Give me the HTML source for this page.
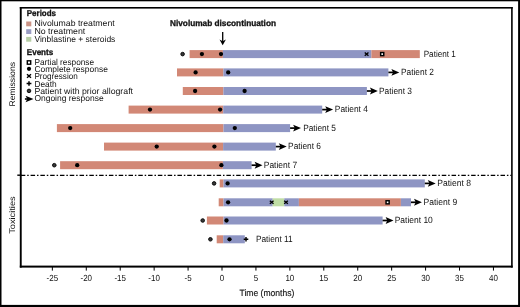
<!DOCTYPE html>
<html><head><meta charset="utf-8"><style>
html,body{margin:0;padding:0;background:#fff;}
svg{display:block;font-family:"Liberation Sans",sans-serif;text-rendering:geometricPrecision;will-change:transform;}
text{fill:#111;}
</style></head><body>
<svg width="520" height="307" viewBox="0 0 520 307">
<rect x="0" y="0" width="520" height="307" fill="#fff"/>
<!-- outer frame -->
<rect x="0" y="0" width="520" height="1.3" fill="#000"/>
<rect x="0" y="0" width="1.5" height="307" fill="#000"/>
<rect x="518.1" y="0" width="1.9" height="307" fill="#000"/>
<rect x="0" y="304.9" width="520" height="2.1" fill="#000"/>
<!-- plot box -->
<rect x="19.8" y="7" width="492.9" height="1.6" fill="#000"/>
<rect x="19.8" y="7" width="1.9" height="260.6" fill="#000"/>
<rect x="511.1" y="7" width="1.6" height="260.6" fill="#000"/>
<rect x="19.8" y="265.6" width="492.9" height="2" fill="#000"/>
<rect x="51.85" y="267" width="1" height="3.6" fill="#000"/>
<text transform="translate(52.35,281.4) scale(0.91,1)" font-size="8.8" text-anchor="middle">-25</text>
<rect x="85.78" y="267" width="1" height="3.6" fill="#000"/>
<text transform="translate(86.28,281.4) scale(0.91,1)" font-size="8.8" text-anchor="middle">-20</text>
<rect x="119.71" y="267" width="1" height="3.6" fill="#000"/>
<text transform="translate(120.21,281.4) scale(0.91,1)" font-size="8.8" text-anchor="middle">-15</text>
<rect x="153.64" y="267" width="1" height="3.6" fill="#000"/>
<text transform="translate(154.14,281.4) scale(0.91,1)" font-size="8.8" text-anchor="middle">-10</text>
<rect x="187.57" y="267" width="1" height="3.6" fill="#000"/>
<text transform="translate(188.07,281.4) scale(0.91,1)" font-size="8.8" text-anchor="middle">-5</text>
<rect x="221.50" y="267" width="1" height="3.6" fill="#000"/>
<text transform="translate(222.00,281.4) scale(0.91,1)" font-size="8.8" text-anchor="middle">0</text>
<rect x="255.43" y="267" width="1" height="3.6" fill="#000"/>
<text transform="translate(255.93,281.4) scale(0.91,1)" font-size="8.8" text-anchor="middle">5</text>
<rect x="289.36" y="267" width="1" height="3.6" fill="#000"/>
<text transform="translate(289.86,281.4) scale(0.91,1)" font-size="8.8" text-anchor="middle">10</text>
<rect x="323.29" y="267" width="1" height="3.6" fill="#000"/>
<text transform="translate(323.79,281.4) scale(0.91,1)" font-size="8.8" text-anchor="middle">15</text>
<rect x="357.22" y="267" width="1" height="3.6" fill="#000"/>
<text transform="translate(357.72,281.4) scale(0.91,1)" font-size="8.8" text-anchor="middle">20</text>
<rect x="391.15" y="267" width="1" height="3.6" fill="#000"/>
<text transform="translate(391.65,281.4) scale(0.91,1)" font-size="8.8" text-anchor="middle">25</text>
<rect x="425.08" y="267" width="1" height="3.6" fill="#000"/>
<text transform="translate(425.58,281.4) scale(0.91,1)" font-size="8.8" text-anchor="middle">30</text>
<rect x="459.01" y="267" width="1" height="3.6" fill="#000"/>
<text transform="translate(459.51,281.4) scale(0.91,1)" font-size="8.8" text-anchor="middle">35</text>
<rect x="492.94" y="267" width="1" height="3.6" fill="#000"/>
<text transform="translate(493.44,281.4) scale(0.91,1)" font-size="8.8" text-anchor="middle">40</text>
<text x="239.5" y="296.3" font-size="9.2" stroke="#111" stroke-width="0.15" textLength="54.8" lengthAdjust="spacingAndGlyphs">Time (months)</text>
<text transform="translate(15.3,84.3) rotate(-90)" font-size="8.2" text-anchor="middle" textLength="44.6" lengthAdjust="spacingAndGlyphs">Remissions</text>
<text transform="translate(15.3,215.1) rotate(-90)" font-size="8.2" text-anchor="middle" textLength="37.5" lengthAdjust="spacingAndGlyphs">Toxicities</text>
<!-- separator -->
<rect x="17.3" y="174.5" width="4" height="1.4" fill="#000"/>
<path d="M20.8 175.4H511.5" stroke="#000" stroke-width="1.4" stroke-dasharray="4.5 1.9 1.5 1.89" fill="none"/>
<!-- title -->
<text x="170" y="26" font-size="8.5" font-weight="bold" stroke="#111" stroke-width="0.3" textLength="106" lengthAdjust="spacingAndGlyphs">Nivolumab discontinuation</text>
<path d="M222.7 32V42" stroke="#000" stroke-width="1.3" fill="none"/>
<path d="M222.7 45.3L219.5 39.6L222.7 41.2L225.9 39.6Z" fill="#000"/>

<text x="26.8" y="16" font-size="8.5" font-weight="bold" stroke="#111" stroke-width="0.3" textLength="29.2" lengthAdjust="spacingAndGlyphs">Periods</text>
<rect x="26.2" y="21.5" width="5.1" height="4.8" fill="#CB9385"/>
<rect x="26.2" y="29.2" width="5.1" height="4.8" fill="#999CC2"/>
<rect x="26.2" y="36.9" width="5.1" height="4.8" fill="#B7CEA6"/>
<text x="34.4" y="26" font-size="8.6" textLength="80.3" lengthAdjust="spacingAndGlyphs">Nivolumab treatment</text>
<text x="34.4" y="34" font-size="8.6" textLength="50.9" lengthAdjust="spacingAndGlyphs">No treatment</text>
<text x="34.4" y="42" font-size="8.6" textLength="81" lengthAdjust="spacingAndGlyphs">Vinblastine + steroids</text>
<text x="26.8" y="55" font-size="8.5" font-weight="bold" stroke="#111" stroke-width="0.3" textLength="26.4" lengthAdjust="spacingAndGlyphs">Events</text>
<text x="34.4" y="64.6" font-size="8.6" textLength="59.7" lengthAdjust="spacingAndGlyphs">Partial response</text>
<text x="34.4" y="72" font-size="8.6" textLength="73.5" lengthAdjust="spacingAndGlyphs">Complete response</text>
<text x="34.4" y="79" font-size="8.6" textLength="43.4" lengthAdjust="spacingAndGlyphs">Progression</text>
<text x="34.4" y="87" font-size="8.6" textLength="22.3" lengthAdjust="spacingAndGlyphs">Death</text>
<text x="34.4" y="94" font-size="8.6" textLength="98.6" lengthAdjust="spacingAndGlyphs">Patient with prior allograft</text>
<text x="34.4" y="101" font-size="8.6" textLength="69.2" lengthAdjust="spacingAndGlyphs">Ongoing response</text>
<rect x="27.3" y="60.8" width="3.4" height="3.4" fill="#fff" stroke="#000" stroke-width="1.4"/>
<circle cx="29" cy="68.8" r="2.1" fill="#000"/>
<path d="M27.0 74.3L31.0 77.7M27.0 77.7L31.0 74.3" stroke="#000" stroke-width="1.5" fill="none"/>
<path d="M26.6 83.5H31.4M29 81.2V85.8" stroke="#000" stroke-width="1.5" fill="none"/>
<circle cx="29" cy="90.9" r="1.8" fill="#383838" stroke="#000" stroke-width="0.9"/>
<path d="M24.9 99H29" stroke="#000" stroke-width="1.6" fill="none"/>
<path d="M33.5 99L25.5 95.8L27.3 99L25.5 102.2Z" fill="#000"/>

<rect x="189.60" y="50.10" width="33.30" height="8.0" fill="#D28876"/>
<rect x="222.90" y="50.10" width="148.50" height="8.0" fill="#8E95C3"/>
<rect x="371.40" y="50.10" width="48.40" height="8.0" fill="#D28876"/>
<circle cx="182.60" cy="54.10" r="1.8" fill="#383838" stroke="#000" stroke-width="0.9"/>
<circle cx="201.90" cy="54.10" r="2.15" fill="#000"/>
<circle cx="221.00" cy="54.10" r="2.15" fill="#000"/>
<path d="M364.75 52.55L368.45 55.65M364.75 55.65L368.45 52.55" stroke="#000" stroke-width="1.35" fill="none"/>
<rect x="380.65" y="52.55" width="3.1" height="3.1" fill="#fff" stroke="#000" stroke-width="1.45"/>
<text x="423.70" y="56.90" font-size="9.1" textLength="32.10" lengthAdjust="spacingAndGlyphs">Patient 1</text>
<rect x="177.00" y="68.40" width="46.40" height="8.0" fill="#D28876"/>
<rect x="223.40" y="68.40" width="165.00" height="8.0" fill="#8E95C3"/>
<path d="M388.40 72.40H394.40" stroke="#000" stroke-width="1.7" fill="none"/>
<path d="M399.30 72.40L391.40 68.95L393.10 72.40L391.40 75.85Z" fill="#000"/>
<circle cx="195.60" cy="72.40" r="2.15" fill="#000"/>
<circle cx="228.20" cy="72.40" r="2.15" fill="#000"/>
<text x="401.00" y="75.20" font-size="9.1" textLength="32.90" lengthAdjust="spacingAndGlyphs">Patient 2</text>
<rect x="182.80" y="87.00" width="40.60" height="8.0" fill="#D28876"/>
<rect x="223.40" y="87.00" width="143.50" height="8.0" fill="#8E95C3"/>
<path d="M366.90 91.00H372.90" stroke="#000" stroke-width="1.7" fill="none"/>
<path d="M377.80 91.00L369.90 87.55L371.60 91.00L369.90 94.45Z" fill="#000"/>
<circle cx="195.10" cy="91.00" r="2.15" fill="#000"/>
<circle cx="244.60" cy="91.00" r="2.15" fill="#000"/>
<text x="379.00" y="93.80" font-size="9.1" textLength="33.00" lengthAdjust="spacingAndGlyphs">Patient 3</text>
<rect x="128.60" y="105.60" width="94.60" height="8.0" fill="#D28876"/>
<rect x="223.20" y="105.60" width="99.00" height="8.0" fill="#8E95C3"/>
<path d="M322.20 109.60H328.20" stroke="#000" stroke-width="1.7" fill="none"/>
<path d="M333.10 109.60L325.20 106.15L326.90 109.60L325.20 113.05Z" fill="#000"/>
<circle cx="150.00" cy="109.60" r="2.15" fill="#000"/>
<circle cx="220.10" cy="109.60" r="2.15" fill="#000"/>
<text x="334.80" y="112.40" font-size="9.1" textLength="33.10" lengthAdjust="spacingAndGlyphs">Patient 4</text>
<rect x="56.90" y="124.10" width="166.60" height="8.0" fill="#D28876"/>
<rect x="223.50" y="124.10" width="66.60" height="8.0" fill="#8E95C3"/>
<path d="M290.10 128.10H296.10" stroke="#000" stroke-width="1.7" fill="none"/>
<path d="M301.00 128.10L293.10 124.65L294.80 128.10L293.10 131.55Z" fill="#000"/>
<circle cx="70.20" cy="128.10" r="2.15" fill="#000"/>
<circle cx="234.80" cy="128.10" r="2.15" fill="#000"/>
<text x="303.20" y="130.90" font-size="9.1" textLength="32.80" lengthAdjust="spacingAndGlyphs">Patient 5</text>
<rect x="104.00" y="142.60" width="119.10" height="8.0" fill="#D28876"/>
<rect x="223.10" y="142.60" width="52.70" height="8.0" fill="#8E95C3"/>
<path d="M275.80 146.60H281.80" stroke="#000" stroke-width="1.7" fill="none"/>
<path d="M286.70 146.60L278.80 143.15L280.50 146.60L278.80 150.05Z" fill="#000"/>
<circle cx="156.70" cy="146.60" r="2.15" fill="#000"/>
<circle cx="214.40" cy="146.60" r="2.15" fill="#000"/>
<text x="288.10" y="149.40" font-size="9.1" textLength="32.90" lengthAdjust="spacingAndGlyphs">Patient 6</text>
<rect x="60.10" y="161.20" width="162.80" height="8.0" fill="#D28876"/>
<rect x="222.90" y="161.20" width="28.70" height="8.0" fill="#8E95C3"/>
<path d="M251.60 165.20H257.60" stroke="#000" stroke-width="1.7" fill="none"/>
<path d="M262.50 165.20L254.60 161.75L256.30 165.20L254.60 168.65Z" fill="#000"/>
<circle cx="54.30" cy="165.20" r="1.8" fill="#383838" stroke="#000" stroke-width="0.9"/>
<circle cx="77.20" cy="165.20" r="2.15" fill="#000"/>
<circle cx="221.40" cy="165.20" r="2.15" fill="#000"/>
<text x="263.80" y="168.00" font-size="9.1" textLength="33.30" lengthAdjust="spacingAndGlyphs">Patient 7</text>
<rect x="219.70" y="179.40" width="3.80" height="8.0" fill="#D28876"/>
<rect x="223.50" y="179.40" width="201.30" height="8.0" fill="#8E95C3"/>
<path d="M424.80 183.40H430.80" stroke="#000" stroke-width="1.7" fill="none"/>
<path d="M435.70 183.40L427.80 179.95L429.50 183.40L427.80 186.85Z" fill="#000"/>
<circle cx="214.10" cy="183.40" r="1.8" fill="#383838" stroke="#000" stroke-width="0.9"/>
<circle cx="227.60" cy="183.40" r="2.15" fill="#000"/>
<text x="437.30" y="186.20" font-size="9.1" textLength="33.70" lengthAdjust="spacingAndGlyphs">Patient 8</text>
<rect x="218.70" y="198.30" width="4.80" height="8.0" fill="#D28876"/>
<rect x="223.50" y="198.30" width="49.20" height="8.0" fill="#8E95C3"/>
<rect x="272.70" y="198.30" width="11.60" height="8.0" fill="#C0DDA5"/>
<rect x="284.30" y="198.30" width="14.60" height="8.0" fill="#8E95C3"/>
<rect x="298.90" y="198.30" width="102.00" height="8.0" fill="#D28876"/>
<rect x="400.90" y="198.30" width="10.10" height="8.0" fill="#8E95C3"/>
<path d="M411.00 202.30H417.00" stroke="#000" stroke-width="1.7" fill="none"/>
<path d="M421.90 202.30L414.00 198.85L415.70 202.30L414.00 205.75Z" fill="#000"/>
<circle cx="228.10" cy="202.30" r="2.15" fill="#000"/>
<path d="M269.85 200.75L273.55 203.85M269.85 203.85L273.55 200.75" stroke="#000" stroke-width="1.35" fill="none"/>
<path d="M284.15 200.75L287.85 203.85M284.15 203.85L287.85 200.75" stroke="#000" stroke-width="1.35" fill="none"/>
<rect x="386.05" y="200.75" width="3.1" height="3.1" fill="#fff" stroke="#000" stroke-width="1.45"/>
<text x="423.50" y="205.10" font-size="9.1" textLength="33.70" lengthAdjust="spacingAndGlyphs">Patient 9</text>
<rect x="206.90" y="216.50" width="16.60" height="8.0" fill="#D28876"/>
<rect x="223.50" y="216.50" width="159.10" height="8.0" fill="#8E95C3"/>
<path d="M382.60 220.50H388.60" stroke="#000" stroke-width="1.7" fill="none"/>
<path d="M393.50 220.50L385.60 217.05L387.30 220.50L385.60 223.95Z" fill="#000"/>
<circle cx="202.70" cy="220.50" r="1.8" fill="#383838" stroke="#000" stroke-width="0.9"/>
<circle cx="226.50" cy="220.50" r="2.15" fill="#000"/>
<text x="394.70" y="223.30" font-size="9.1" textLength="38.10" lengthAdjust="spacingAndGlyphs">Patient 10</text>
<rect x="216.70" y="235.30" width="6.50" height="8.0" fill="#D28876"/>
<rect x="223.20" y="235.30" width="21.60" height="8.0" fill="#8E95C3"/>
<circle cx="210.40" cy="239.30" r="1.8" fill="#383838" stroke="#000" stroke-width="0.9"/>
<circle cx="229.50" cy="239.30" r="2.15" fill="#000"/>
<path d="M243.70 239.30H248.30M246.00 237.00V241.60" stroke="#000" stroke-width="1.45" fill="none"/>
<text x="255.90" y="242.10" font-size="9.1" textLength="36.80" lengthAdjust="spacingAndGlyphs">Patient 11</text>
</svg>
</body></html>
